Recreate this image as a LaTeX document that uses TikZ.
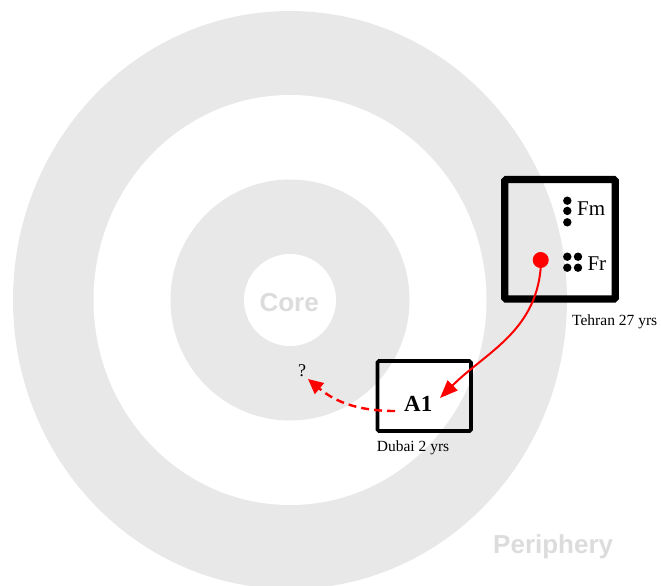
\documentclass[tikz,border=0pt]{standalone}
\usepackage{fontspec}
\setmainfont{Liberation Serif}
\newfontfamily\lsans{Liberation Sans}
\usetikzlibrary{arrows.meta}
\definecolor{ringgray}{RGB}{232,232,232}
\definecolor{labelgray}{RGB}{220,220,220}
\begin{document}
\begin{tikzpicture}[x=1pt,y=1pt,
  ringtext/.style={font=\lsans\bfseries\fontsize{26}{30}\selectfont, text=labelgray, inner sep=0pt, anchor=base west},
  smalltext/.style={font=\fontsize{15.5}{18}\selectfont, inner sep=0pt, anchor=base west},
  dotnode/.style={circle, fill=black, inner sep=0pt, minimum size=8.4pt},
  citybox/.style={draw=black, rectangle, inner sep=0pt, rounded corners=1.5pt},
  redarrow/.style={draw=red, line width=2pt, -{Triangle[length=18pt,width=14pt]}},
  reddash/.style={draw=red, line width=2.4pt, dash pattern=on 8pt off 5pt, -{Triangle[length=15pt,width=14pt]}}
]
\useasboundingbox (0,0) rectangle (661,-586);
\begin{scope}
\clip (0,0) rectangle (661,-586);
\fill[ringgray] (290,-300) ellipse [x radius=277, y radius=289];
\fill[white] (290,-300) ellipse [x radius=196.5, y radius=205];
\fill[ringgray] (290,-300) ellipse [x radius=119.5, y radius=120.5];
\fill[white] (290,-300) circle [radius=46];
\end{scope}
\node[ringtext] (core) at (259.3,-311.7) {Core};
\node[ringtext] (periphery) at (493,-553) {Periphery};
% Tehran box
\node[citybox, line width=7.3pt, minimum width=110.6pt, minimum height=119.5pt] (tehran) at (560,-239.3) {};
\node[dotnode] (fm1) at (567.3,-200.7) {};
\node[dotnode] (fm2) at (567.3,-210.9) {};
\node[dotnode] (fm3) at (567.3,-222.3) {};
\node[font=\fontsize{21}{24}\selectfont, inner sep=0pt, anchor=base west] (fm) at (577,-215) {Fm};
\node[dotnode] (fr1) at (567.3,-256.7) {};
\node[dotnode] (fr2) at (578,-256.7) {};
\node[dotnode] (fr3) at (567.3,-267.7) {};
\node[dotnode] (fr4) at (578,-267.7) {};
\node[font=\fontsize{21}{24}\selectfont, inner sep=0pt, anchor=base west] (fr) at (587.3,-270.7) {Fr};
\node[circle, fill=red, inner sep=0pt, minimum size=16pt] (reddot) at (540.7,-260) {};
\node[smalltext] (tehranlbl) at (572,-325) {Tehran 27 yrs};
% Dubai box
\node[citybox, line width=3.6pt, minimum width=93.5pt, minimum height=70pt] (dubai) at (424.2,-396) {};
\node[font=\bfseries\fontsize{23}{26}\selectfont, inner sep=0pt, anchor=base west] (a1) at (404,-411) {A1};
\node[smalltext] (dubailbl) at (376.7,-451.7) {Dubai 2 yrs};
\node[font=\fontsize{18}{20}\selectfont, inner sep=0pt, anchor=base west] (q) at (298,-376) {?};
\coordinate (a1tip) at (440,-398);
\coordinate (dashstart) at (395,-411);
\coordinate (qtip) at (308,-379);
\draw[redarrow] (reddot.south) to[out=-95,in=45] (a1tip);
\draw[reddash] (dashstart) to[out=180,in=-40] (qtip);
\end{tikzpicture}
\end{document}
